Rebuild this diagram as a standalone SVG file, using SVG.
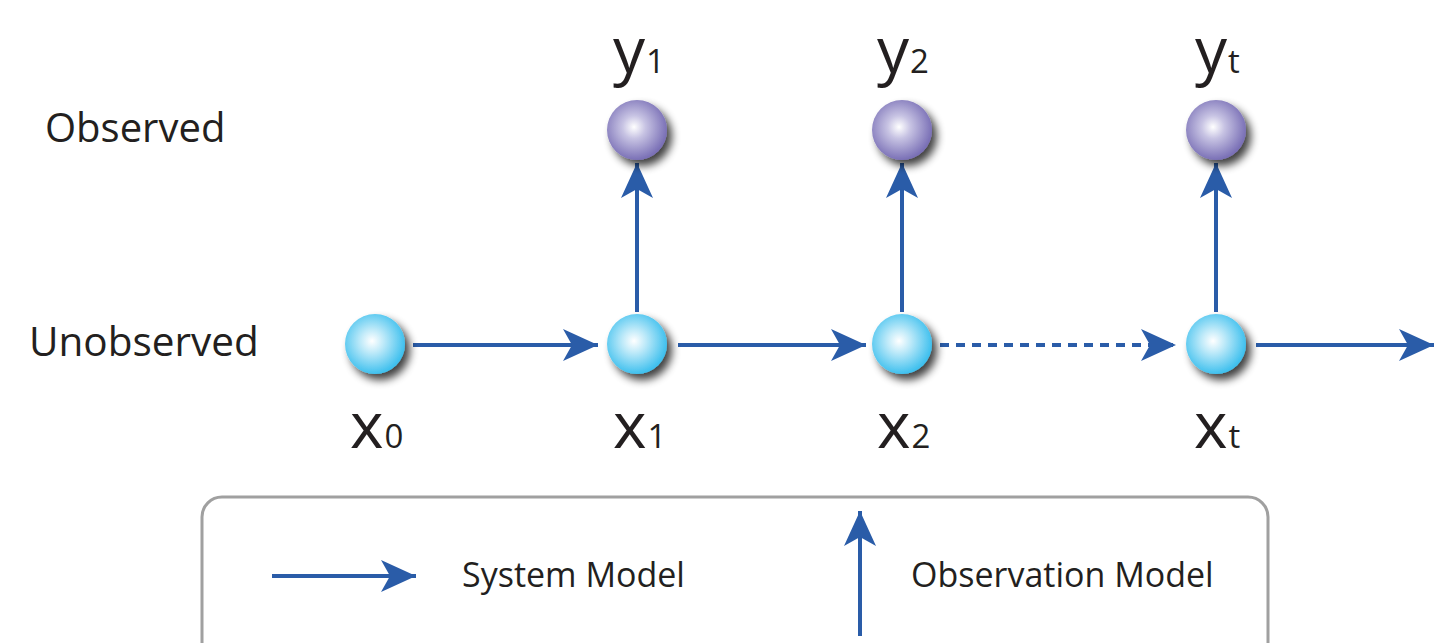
<svg xmlns="http://www.w3.org/2000/svg" width="1434" height="643" viewBox="0 0 1434 643">
<defs>
<radialGradient id="gc" cx="0.45" cy="0.45" r="0.55">
<stop offset="0" stop-color="#ffffff"/>
<stop offset="0.35" stop-color="#bfeaf9"/>
<stop offset="1" stop-color="#3fc0ee"/>
</radialGradient>
<radialGradient id="gp" cx="0.45" cy="0.45" r="0.55">
<stop offset="0" stop-color="#ffffff"/>
<stop offset="0.35" stop-color="#c7c3e3"/>
<stop offset="1" stop-color="#7a70b6"/>
</radialGradient>
<filter id="sh" x="-50%" y="-50%" width="200%" height="200%">
<feGaussianBlur in="SourceAlpha" stdDeviation="4"/>
<feOffset dx="5" dy="6" result="b"/>
<feComponentTransfer><feFuncA type="linear" slope="0.75"/></feComponentTransfer>
<feMerge><feMergeNode/><feMergeNode in="SourceGraphic"/></feMerge>
</filter>
<marker id="ah" markerUnits="userSpaceOnUse" markerWidth="40" markerHeight="34" refX="35" refY="16" orient="auto">
<path d="M0,0 L35,16 L0,32 L9,16 z" fill="#2a5ca8"/>
</marker>
</defs>
<style>
.lbl{font-family:"Open Sans","Liberation Sans",sans-serif;fill:#231f20}
.var{font-family:"Open Sans","Liberation Sans",sans-serif;fill:#231f20;font-size:64px}
.sub{font-size:33px}
.ln{stroke:#2a5ca8;stroke-width:4;fill:none}
.cy{fill:url(#gc);filter:url(#sh)}
.pu{fill:url(#gp);filter:url(#sh)}
</style>
<rect x="202" y="497" width="1066" height="170" rx="20" ry="20" fill="none" stroke="#a0a0a0" stroke-width="3"/>
<text class="lbl" x="45" y="142" font-size="40">Observed</text>
<text class="lbl" x="29" y="356" font-size="40.5">Unobserved</text>
<g id="connectors">
<line class="ln" x1="413" y1="345" x2="598" y2="345" marker-end="url(#ah)"/>
<line class="ln" x1="678" y1="345" x2="866" y2="345" marker-end="url(#ah)"/>
<line class="ln" x1="940" y1="345" x2="1176" y2="345" stroke-dasharray="9,7" marker-end="url(#ah)"/>
<line class="ln" x1="1256" y1="345" x2="1434" y2="345" marker-end="url(#ah)"/>
<line class="ln" x1="637" y1="312" x2="637" y2="163" marker-end="url(#ah)"/>
<line class="ln" x1="902" y1="312" x2="902" y2="163" marker-end="url(#ah)"/>
<line class="ln" x1="1216" y1="312" x2="1216" y2="163" marker-end="url(#ah)"/>
<line class="ln" x1="272" y1="576" x2="416" y2="576" marker-end="url(#ah)"/>
<line class="ln" x1="860" y1="636" x2="860" y2="511" marker-end="url(#ah)"/>
</g>
<g id="x0"><circle class="cy" cx="375" cy="344" r="30"/><text class="var" x="350" y="448">x<tspan class="sub" dx="1">0</tspan></text></g>
<g id="x1"><circle class="cy" cx="637" cy="344" r="30"/><text class="var" x="613" y="448">x<tspan class="sub" dx="1">1</tspan></text></g>
<g id="x2"><circle class="cy" cx="902" cy="344" r="30"/><text class="var" x="877" y="448">x<tspan class="sub" dx="1">2</tspan></text></g>
<g id="xt"><circle class="cy" cx="1216" cy="344" r="30"/><text class="var" x="1194" y="448">x<tspan class="sub" dx="1">t</tspan></text></g>
<g id="y1"><circle class="pu" cx="637" cy="130" r="30"/><text class="var" x="613" y="73">y<tspan class="sub" dx="1">1</tspan></text></g>
<g id="y2"><circle class="pu" cx="902" cy="130" r="30"/><text class="var" x="877" y="73">y<tspan class="sub" dx="1">2</tspan></text></g>
<g id="yt"><circle class="pu" cx="1216" cy="130" r="30"/><text class="var" x="1195" y="73">y<tspan class="sub" dx="1">t</tspan></text></g>
<g id="legend">
<text class="lbl" x="462" y="587" font-size="34">System Model</text>
<text class="lbl" x="911" y="587" font-size="34">Observation Model</text>
</g>
</svg>
